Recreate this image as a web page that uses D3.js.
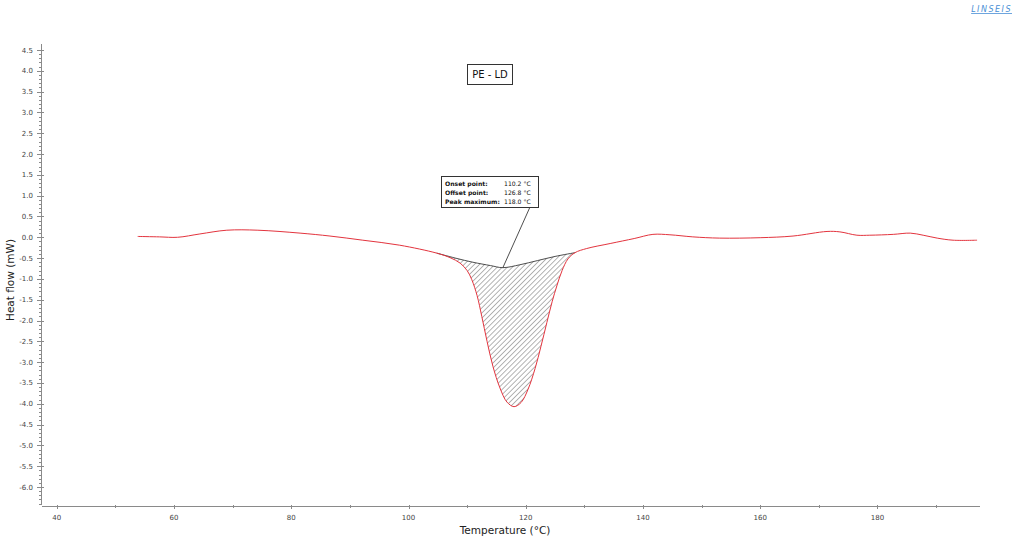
<!DOCTYPE html>
<html><head><meta charset="utf-8">
<script src="https://cdn.jsdelivr.net/npm/d3@7"></script>
<style>body{margin:0;background:#fff}svg{display:block}</style>
</head><body>
<svg id="c" width="1024" height="541"></svg>
<script>
// ---- data ----
const temperature = [53.8,57.5,60.6,64.4,69.0,74.3,81.5,86.6,92.2,98.5,104.8,107.1,108.8,110.0,110.8,111.7,112.5,113.4,114.4,115.6,116.8,118.0,119.2,120.4,121.6,122.6,123.6,124.5,125.3,126.2,127.2,128.4,130.4,134.4,138.5,141.7,144.6,148.5,153.1,160.0,165.6,171.4,173.6,176.5,178.7,182.7,185.6,187.8,190.2,192.9,197.0];
const heatFlow    = [0.02,0.01,0.0,0.08,0.17,0.17,0.10,0.03,-0.07,-0.19,-0.38,-0.49,-0.62,-0.80,-1.02,-1.40,-1.90,-2.50,-3.10,-3.62,-3.96,-4.07,-3.97,-3.65,-3.15,-2.62,-2.05,-1.55,-1.17,-0.80,-0.52,-0.37,-0.27,-0.15,-0.03,0.07,0.06,0.01,-0.02,-0.01,0.03,0.14,0.13,0.05,0.05,0.07,0.10,0.05,-0.02,-0.07,-0.07];
const baselineT = [104.8,108.0,111.0,114.0,116.1,119.0,122.0,125.0,128.4];
const baselineV = [-0.38,-0.50,-0.60,-0.68,-0.73,-0.66,-0.56,-0.46,-0.37];
const peakT = 116.1, peakV = -0.73;
const xMajor = [40,60,80,100,120,140,160,180];
const xMinor = [50,70,90,110,130,150,170,190];
const yMajor = [4.5,4.0,3.5,3.0,2.5,2.0,1.5,1.0,0.5,0.0,-0.5,-1.0,-1.5,-2.0,-2.5,-3.0,-3.5,-4.0,-4.5,-5.0,-5.5,-6.0];
const annLabels = ["Onset point:","Offset point:","Peak maximum:"];
const annValues = ["110.2 °C","126.8 °C","118.0 °C"];
const title = "PE - LD";

const svg = d3.select("#c");
const font = "Tahoma, 'DejaVu Sans', sans-serif";
const x = d3.scaleLinear().domain([37.3,197.5]).range([41,980]);
const y = d3.scaleLinear().domain([4.5,-6.0]).range([50,487]);

// pattern
const defs = svg.append("defs");
const pat = defs.append("pattern").attr("id","hatch").attr("patternUnits","userSpaceOnUse")
  .attr("width",3.6).attr("height",3.6).attr("patternTransform","rotate(45)");
pat.append("line").attr("x1",0).attr("y1",0).attr("x2",0).attr("y2",3.6).attr("stroke","#444").attr("stroke-width",0.8);

// axes
const ax = "#8a8a8a";
svg.append("line").attr("x1",41.5).attr("x2",41.5).attr("y1",44).attr("y2",505).attr("stroke",ax);
svg.append("line").attr("x1",42).attr("x2",980).attr("y1",506.5).attr("y2",506.5).attr("stroke",ax);
const yMinor = d3.range(-64,46).map(d=>d/10).filter(v=>!yMajor.some(m=>Math.abs(m-v)<1e-6));
svg.selectAll(".ymin").data(yMinor).join("line")
  .attr("x1",39).attr("x2",42).attr("y1",d=>Math.round(y(d))+0.5).attr("y2",d=>Math.round(y(d))+0.5).attr("stroke",ax);
svg.selectAll(".ymaj").data(yMajor).join("line")
  .attr("x1",37).attr("x2",44).attr("y1",d=>Math.round(y(d))+0.5).attr("y2",d=>Math.round(y(d))+0.5).attr("stroke",ax);
svg.selectAll(".ylab").data(yMajor).join("text")
  .attr("x",33).attr("y",d=>y(d)+2.5).attr("text-anchor","end")
  .attr("font-family",font).attr("font-size",7).attr("fill","#444").text(d=>d.toFixed(1));
svg.selectAll(".xmaj").data(xMajor).join("line")
  .attr("x1",d=>Math.round(x(d))+0.5).attr("x2",d=>Math.round(x(d))+0.5).attr("y1",505).attr("y2",509).attr("stroke",ax);
svg.selectAll(".xmin").data(xMinor).join("line")
  .attr("x1",d=>Math.round(x(d))+0.5).attr("x2",d=>Math.round(x(d))+0.5).attr("y1",505).attr("y2",508).attr("stroke",ax);
svg.selectAll(".xlab").data(xMajor).join("text")
  .attr("x",d=>x(d)).attr("y",520).attr("text-anchor","middle")
  .attr("font-family",font).attr("font-size",7).attr("fill","#444").text(d=>d);

svg.append("text").attr("x",505).attr("y",534).attr("text-anchor","middle")
  .attr("font-family",font).attr("font-size",10.5).attr("fill","#222").text("Temperature (°C)");
svg.append("text").attr("transform","translate(14,280) rotate(-90)").attr("text-anchor","middle")
  .attr("font-family",font).attr("font-size",10.5).attr("fill","#222").text("Heat flow (mW)");

// data marks
const pts = temperature.map((t,i)=>[t,heatFlow[i]]);
const bpts = baselineT.map((t,i)=>[t,baselineV[i]]);
const line = d3.line().x(d=>x(d[0])).y(d=>y(d[1])).curve(d3.curveCatmullRom.alpha(0.5));
const i0 = temperature.indexOf(baselineT[0]), i1 = temperature.indexOf(baselineT[baselineT.length-1]);
const seg = pts.slice(i0,i1+1);
const areaPath = line(seg) + "L" + line(bpts.slice().reverse()).slice(1) + "Z";
svg.append("path").attr("d",areaPath).attr("fill","url(#hatch)").attr("stroke","none");
svg.append("path").attr("d",line(bpts)).attr("fill","none").attr("stroke","#222").attr("stroke-width",0.8);
svg.append("path").attr("d",line(pts)).attr("fill","none").attr("stroke","#e3343e").attr("stroke-width",1);

// annotation
svg.append("line").attr("x1",x(peakT)).attr("y1",y(peakV)).attr("x2",530).attr("y2",207).attr("stroke","#222").attr("stroke-width",0.8);
svg.append("rect").attr("x",441.5).attr("y",176.5).attr("width",97).attr("height",31).attr("fill","#fff").attr("stroke","#333");
svg.selectAll(".al").data(annLabels).join("text")
  .attr("x",445).attr("y",(d,i)=>186+i*9).attr("font-family",font).attr("font-size",6.1).attr("font-weight","bold").attr("fill","#111").text(d=>d);
svg.selectAll(".av").data(annValues).join("text")
  .attr("x",504).attr("y",(d,i)=>186+i*9).attr("font-family",font).attr("font-size",6.1).attr("fill","#111").text(d=>d);

// title
svg.append("rect").attr("x",467.5).attr("y",64.5).attr("width",45).attr("height",20).attr("fill","#fff").attr("stroke","#333");
svg.append("text").attr("x",490).attr("y",78).attr("text-anchor","middle").attr("font-family",font).attr("font-size",10).attr("fill","#111").text(title);

// logo
svg.append("text").attr("x",1012).attr("y",12).attr("text-anchor","end").attr("font-family",font).attr("font-size",8)
  .attr("font-style","italic").attr("letter-spacing",1.5).attr("fill","#4a8fd6").attr("text-decoration","underline").text("LINSEIS");
</script>
</body></html>
